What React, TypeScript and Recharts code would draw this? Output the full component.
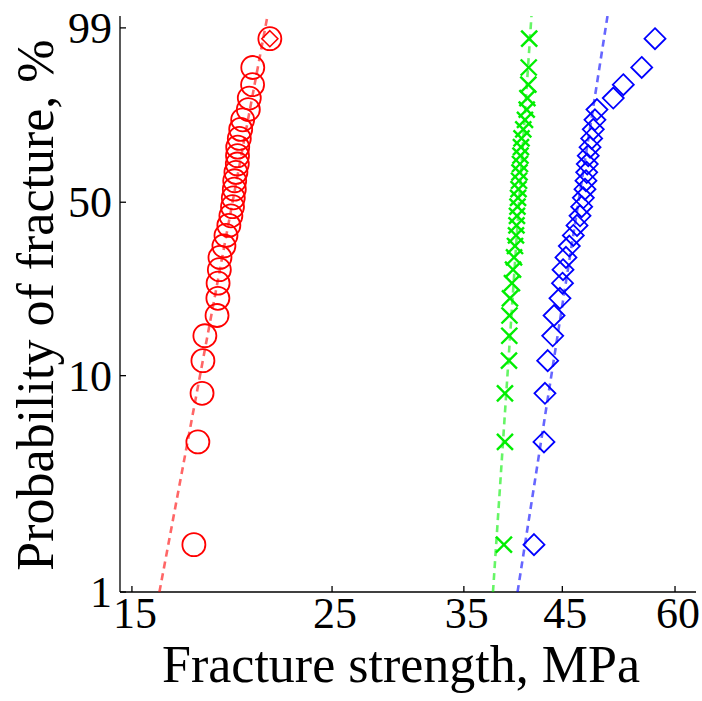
import React from 'react';
import { ComposedChart, Scatter, XAxis, YAxis } from 'recharts';

// Probability of fracture (%) for ranks 1..30 (same for each series)
const probabilities = [1.667, 5, 8.333, 11.667, 15, 18.333, 21.667, 25, 28.333, 31.667, 35, 38.333, 41.667, 45, 48.333, 51.667, 55, 58.333, 61.667, 65, 68.333, 71.667, 75, 78.333, 81.667, 85, 88.333, 91.667, 95, 98.333];

// Fracture strength (MPa)
const redStrength = [17.57, 17.75, 17.94, 17.98, 18.07, 18.64, 18.68, 18.69, 18.75, 18.78, 18.97, 19.07, 19.21, 19.31, 19.39, 19.43, 19.48, 19.5, 19.56, 19.63, 19.64, 19.65, 19.73, 19.8, 19.9, 20.19, 20.24, 20.41, 20.42, 21.33];
const greenStrength = [38.77, 38.87, 38.87, 39.27, 39.3, 39.32, 39.37, 39.57, 39.68, 39.78, 39.88, 39.98, 40.03, 40.08, 40.13, 40.19, 40.24, 40.29, 40.34, 40.39, 40.44, 40.49, 40.55, 40.73, 40.91, 41.09, 41.16, 41.26, 41.3, 41.35];
const blueStrength = [41.86, 42.94, 43.05, 43.35, 43.91, 44.06, 44.73, 45.02, 45.08, 45.42, 45.81, 46.28, 46.72, 47.08, 47.28, 47.48, 47.68, 47.8, 47.89, 47.96, 48.08, 48.3, 48.5, 48.7, 48.91, 49.16, 51.25, 52.58, 55.11, 57.01];

// extra marker inside the top red circle
const redTopMarkStrength = [21.33];
const redTopMarkProb = [98.333];

// Fitted Weibull lines (strength at the bottom and top of the frame)
const fitProb = [1, 99.47];
const redFitStrength = [16.09, 21.2];
const greenFitStrength = [37.7, 41.59];
const blueFitStrength = [40.14, 50.5];

const xTicks = [15, 25, 35, 45, 60];
const yTicks = [1, 10, 50, 99];
const xRange = [14.55, 63.3];
const yRange = [1, 99.47];

const weib = (p: number) => Math.log(-Math.log(1 - p / 100));
const invWeib = (w: number) => 100 * (1 - Math.exp(-Math.exp(w)));

const build = (s: number[], p: number[]) => s.map((v, i) => ({ x: Math.log(v), y: weib(p[i]) }));

const redData = build(redStrength, probabilities);
const greenData = build(greenStrength, probabilities);
const blueData = build(blueStrength, probabilities);
const redTopData = build(redTopMarkStrength, redTopMarkProb);
const redFit = build(redFitStrength, fitProb);
const greenFit = build(greenFitStrength, fitProb);
const blueFit = build(blueFitStrength, fitProb);

const FONT = '"Liberation Serif", "Times New Roman", serif';

const Circle = (p: any) => (
  <circle cx={p.cx} cy={p.cy} r={11.5} fill="none" stroke="#ff0000" strokeWidth={1.8} />
);
const Diamond = (p: any) => {
  const h = 10.5;
  return (
    <polygon
      points={`${p.cx},${p.cy - h} ${p.cx + h},${p.cy} ${p.cx},${p.cy + h} ${p.cx - h},${p.cy}`}
      fill="none"
      stroke="#0000ff"
      strokeWidth={1.8}
    />
  );
};
const SmallRedDiamond = (p: any) => {
  const h = 8;
  return (
    <polygon
      points={`${p.cx},${p.cy - h} ${p.cx + h},${p.cy} ${p.cx},${p.cy + h} ${p.cx - h},${p.cy}`}
      fill="none"
      stroke="#ff0000"
      strokeWidth={1.6}
    />
  );
};
const Cross = (p: any) => {
  const h = 8;
  return (
    <g stroke="#00ee00" strokeWidth={2.4}>
      <line x1={p.cx - h} y1={p.cy - h} x2={p.cx + h} y2={p.cy + h} />
      <line x1={p.cx - h} y1={p.cy + h} x2={p.cx + h} y2={p.cy - h} />
    </g>
  );
};
const NoShape = () => <g />;

const XTick = (p: any) => {
  const { x, y, payload } = p;
  const label = Math.round(Math.exp(payload.value));
  return (
    <g>
      <line x1={x} y1={y} x2={x} y2={y - 6} stroke="#000" strokeWidth={1.3} />
      <text x={x + 3} y={y + 36} textAnchor="middle" fontSize={44} fontFamily={FONT} fill="#000">
        {label}
      </text>
    </g>
  );
};

const YTick = (p: any) => {
  const { x, y, payload } = p;
  const label = Math.round(invWeib(payload.value));
  return (
    <g>
      <line x1={x} y1={y} x2={x + 6} y2={y} stroke="#000" strokeWidth={1.3} />
      <text x={x - 8} y={y + 15} textAnchor="end" fontSize={44} fontFamily={FONT} fill="#000">
        {label}
      </text>
    </g>
  );
};

const XTitle = (p: any) => {
  const vb = p.viewBox || { x: 120, y: 592, width: 576, height: 109 };
  return (
    <text x={vb.x + vb.width / 2 - 7} y={vb.y + 90} textAnchor="middle" fontSize={52} fontFamily={FONT} fill="#000">
      Fracture strength, MPa
    </text>
  );
};

const YTitle = (p: any) => {
  const vb = p.viewBox || { x: 0, y: 16, width: 120, height: 576 };
  const cx = vb.x + 53;
  const cy = vb.y + vb.height / 2 + 1;
  return (
    <text x={cx} y={cy} transform={`rotate(-90, ${cx}, ${cy})`} textAnchor="middle" fontSize={52} fontFamily={FONT} fill="#000">
      Probability of fracture, %
    </text>
  );
};

const fitLine = (color: string) => ({ stroke: color, strokeWidth: 2.6, strokeDasharray: '7 5', strokeOpacity: 0.6 });

export default function App() {
  const xDomain = [Math.log(xRange[0]), Math.log(xRange[1])];
  const yDomain = [weib(yRange[0]), weib(yRange[1])];
  return (
    <div style={{ position: 'absolute', left: 0, top: 0, width: 702, height: 701, background: '#fff' }}>
      <ComposedChart width={702} height={701} margin={{ top: 16, right: 6, bottom: 0, left: 0 }}>
        <XAxis
          xAxisId="b"
          type="number"
          dataKey="x"
          domain={xDomain}
          ticks={xTicks.map((v) => Math.log(v))}
          interval={0}
          allowDataOverflow
          tick={<XTick />}
          tickLine={false}
          tickSize={0}
          tickMargin={0}
          height={109}
          axisLine={{ stroke: '#000', strokeWidth: 1.3 }}
          label={(props: any) => <XTitle {...props} />}
        />
        <XAxis
          xAxisId="t"
          type="number"
          orientation="top"
          domain={xDomain}
          allowDataOverflow
          tick={false}
          tickLine={false}
          height={0}
          axisLine={{ stroke: '#000', strokeWidth: 1.3 }}
        />
        <YAxis
          yAxisId="l"
          type="number"
          dataKey="y"
          domain={yDomain}
          ticks={yTicks.map((v) => weib(v))}
          interval={0}
          allowDataOverflow
          tick={<YTick />}
          tickLine={false}
          tickSize={0}
          tickMargin={0}
          width={120}
          axisLine={{ stroke: '#000', strokeWidth: 1.3 }}
          label={(props: any) => <YTitle {...props} />}
        />
        <YAxis
          yAxisId="r"
          type="number"
          orientation="right"
          domain={yDomain}
          allowDataOverflow
          tick={false}
          tickLine={false}
          width={0}
          axisLine={{ stroke: '#000', strokeWidth: 1.3 }}
        />
        <Scatter xAxisId="b" yAxisId="l" data={redData} shape={<Circle />} isAnimationActive={false} />
        <Scatter xAxisId="b" yAxisId="l" data={redTopData} shape={<SmallRedDiamond />} isAnimationActive={false} />
        <Scatter xAxisId="b" yAxisId="l" data={greenData} shape={<Cross />} isAnimationActive={false} />
        <Scatter xAxisId="b" yAxisId="l" data={blueData} shape={<Diamond />} isAnimationActive={false} />
        <Scatter xAxisId="b" yAxisId="l" data={redFit} line={fitLine('#ff0000')} shape={<NoShape />} isAnimationActive={false} />
        <Scatter xAxisId="b" yAxisId="l" data={greenFit} line={fitLine('#00ee00')} shape={<NoShape />} isAnimationActive={false} />
        <Scatter xAxisId="b" yAxisId="l" data={blueFit} line={fitLine('#0000ff')} shape={<NoShape />} isAnimationActive={false} />
      </ComposedChart>
    </div>
  );
}
